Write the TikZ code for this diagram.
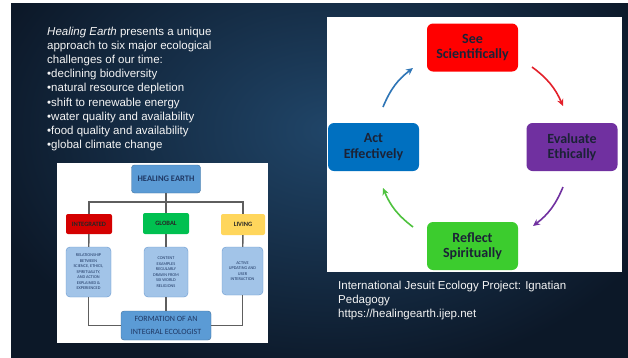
\documentclass[tikz,border=0pt]{standalone}
\usepackage{fontspec}
\setmainfont{Liberation Sans}
\newfontfamily\calib{Carlito}
\usetikzlibrary{arrows.meta}

\definecolor{navydark}{HTML}{0C1828}
\definecolor{navylight}{HTML}{204568}
\definecolor{navytext}{HTML}{1F3864}
\definecolor{linegray}{HTML}{5E5E5E}
\definecolor{steel}{HTML}{5B9BD5}
\definecolor{steeledge}{HTML}{41719C}
\definecolor{pale}{HTML}{A2C4E8}
\definecolor{paleedge}{HTML}{6A9AD0}
\definecolor{tagred}{HTML}{D40000}
\definecolor{taggreen}{HTML}{00C050}
\definecolor{tagyellow}{HTML}{FFD65C}
\definecolor{seered}{HTML}{FF0000}
\definecolor{evalpurple}{HTML}{7030A0}
\definecolor{reflgreen}{HTML}{3CCC2E}
\definecolor{actblue}{HTML}{0070C0}
\definecolor{stagetext}{HTML}{1B2236}
\definecolor{arrowred}{HTML}{E3202A}
\definecolor{arrowpurple}{HTML}{7030A0}
\definecolor{arrowgreen}{HTML}{4EC23E}
\definecolor{arrowblue}{HTML}{2E75B6}

\begin{document}
\begin{tikzpicture}[x=1pt,y=-1pt,
    slidetext/.style={text=white!92!gray, font=\fontsize{11.5}{14.2}\selectfont, align=left, inner sep=0pt},
    topbox/.style={draw=steeledge, fill=steel, rounded corners=3pt, text=navytext, align=center, inner sep=0pt},
    tagbox/.style={rounded corners=2pt, text=black!85, font=\calib\bfseries\fontsize{6.5}{7}\selectfont, inner sep=0pt},
    notebox/.style={draw=paleedge, fill=pale, rounded corners=4pt, text=navytext, font=\calib\fontsize{4.3}{5.5}\selectfont, align=center, inner sep=0pt},
    link/.style={draw=linegray, line width=1.4pt},
    stagebox/.style={rounded corners=6pt, minimum width=91pt, minimum height=48pt, inner sep=0pt, align=center, text=stagetext, font=\calib\bfseries\fontsize{14}{15.5}\selectfont},
    cyclearrow/.style={line width=1.6pt, -{Stealth[length=7pt,width=6.5pt]}, bend left=15}]
    \useasboundingbox (0,0) rectangle (628,357);

    % slide background
    \begin{scope}
        \clip (11,3) rectangle (640,370);
        \fill[navydark] (11,3) rectangle (640,370);
        \shade[inner color=navylight, outer color=navydark] (330,130) ellipse [x radius=360, y radius=250];
    \end{scope}
    \fill[white] (-5,-5) rectangle (11,370);
    \fill[white] (-5,-5) rectangle (640,3);

    % intro text
    \node[slidetext, anchor=north west] (intro) at (47,26.5) {\textit{Healing Earth} presents a unique\\approach to six major ecological\\challenges of our time:\\\textbullet declining biodiversity\\\textbullet natural resource depletion\\\textbullet shift to renewable energy\\\textbullet water quality and availability\\\textbullet food quality and availability\\\textbullet global climate change};

    % left chart
    \fill[white] (57,163) rectangle (268,343);
    \node[topbox, minimum width=69pt, minimum height=28pt, font=\calib\bfseries\fontsize{8.5}{10}\selectfont] (healing) at (166,179) {HEALING EARTH};
    \node[tagbox, fill=tagred, minimum width=46pt, minimum height=20pt] (integrated) at (89,224) {INTEGRATED};
    \node[tagbox, fill=taggreen, minimum width=46pt, minimum height=21pt] (global) at (166,223.5) {GLOBAL};
    \node[tagbox, fill=tagyellow, minimum width=44pt, minimum height=21pt] (living) at (243,224.5) {LIVING};
    \node[notebox, minimum width=45pt, minimum height=50pt] (relation) at (88.5,272) {RELATIONSHIP\\BETWEEN\\SCIENCE, ETHICS,\\SPIRITUALITY,\\AND ACTION\\EXPLAINED \&\\EXPERIENCED};
    \node[notebox, minimum width=44pt, minimum height=50pt] (content) at (166,272) {CONTENT\\EXAMPLES\\REGULARLY\\DRAWN FROM\\SIX WORLD\\RELIGIONS};
    \node[notebox, minimum width=41pt, minimum height=48pt] (active) at (242.5,271) {ACTIVE\\UPDATING AND\\USER\\INTERACTION};
    \node[topbox, minimum width=90pt, minimum height=29pt, font=\calib\fontsize{8}{12.5}\selectfont] (formation) at (166,325.5) {FORMATION OF AN\\INTEGRAL ECOLOGIST};

    \coordinate (bus) at (166,202);
    \draw[link] (healing) -- (global);
    \draw[link] (integrated) |- (bus) -| (living);
    \draw[link] (integrated) -- (relation);
    \draw[link] (global) -- (content);
    \draw[link] (living) -- (active);
    \draw[link] (content) -- (formation);
    \draw[link] (relation) |- (formation);
    \draw[link] (active) |- (formation);

    % right chart
    \fill[white] (327,17) rectangle (622,272);
    \node[stagebox, fill=seered] (see) at (472.5,47.5) {See\\Scientifically};
    \node[stagebox, fill=evalpurple] (evaluate) at (572,147) {Evaluate\\Ethically};
    \node[stagebox, fill=reflgreen] (reflect) at (472.5,246) {Reflect\\Spiritually};
    \node[stagebox, fill=actblue] (act) at (373.5,147) {Act\\Effectively};

    \coordinate (seeout) at (532,67);
    \coordinate (evalin) at (563,106);
    \coordinate (evalout) at (563,187);
    \coordinate (reflin) at (533,226);
    \coordinate (reflout) at (413,227);
    \coordinate (actin) at (383,188);
    \coordinate (actout) at (383,107);
    \coordinate (seein) at (413,68);
    \foreach \from/\to/\col in {seeout/evalin/arrowred, evalout/reflin/arrowpurple, reflout/actin/arrowgreen, actout/seein/arrowblue}{
        \draw[cyclearrow, draw=\col] (\from) to (\to);
    }

    % source
    \node[slidetext, anchor=north west] (credit) at (338,280.5) {International Jesuit Ecology Project: Ignatian\\Pedagogy\\https://healingearth.ijep.net};
\end{tikzpicture}
\end{document}
